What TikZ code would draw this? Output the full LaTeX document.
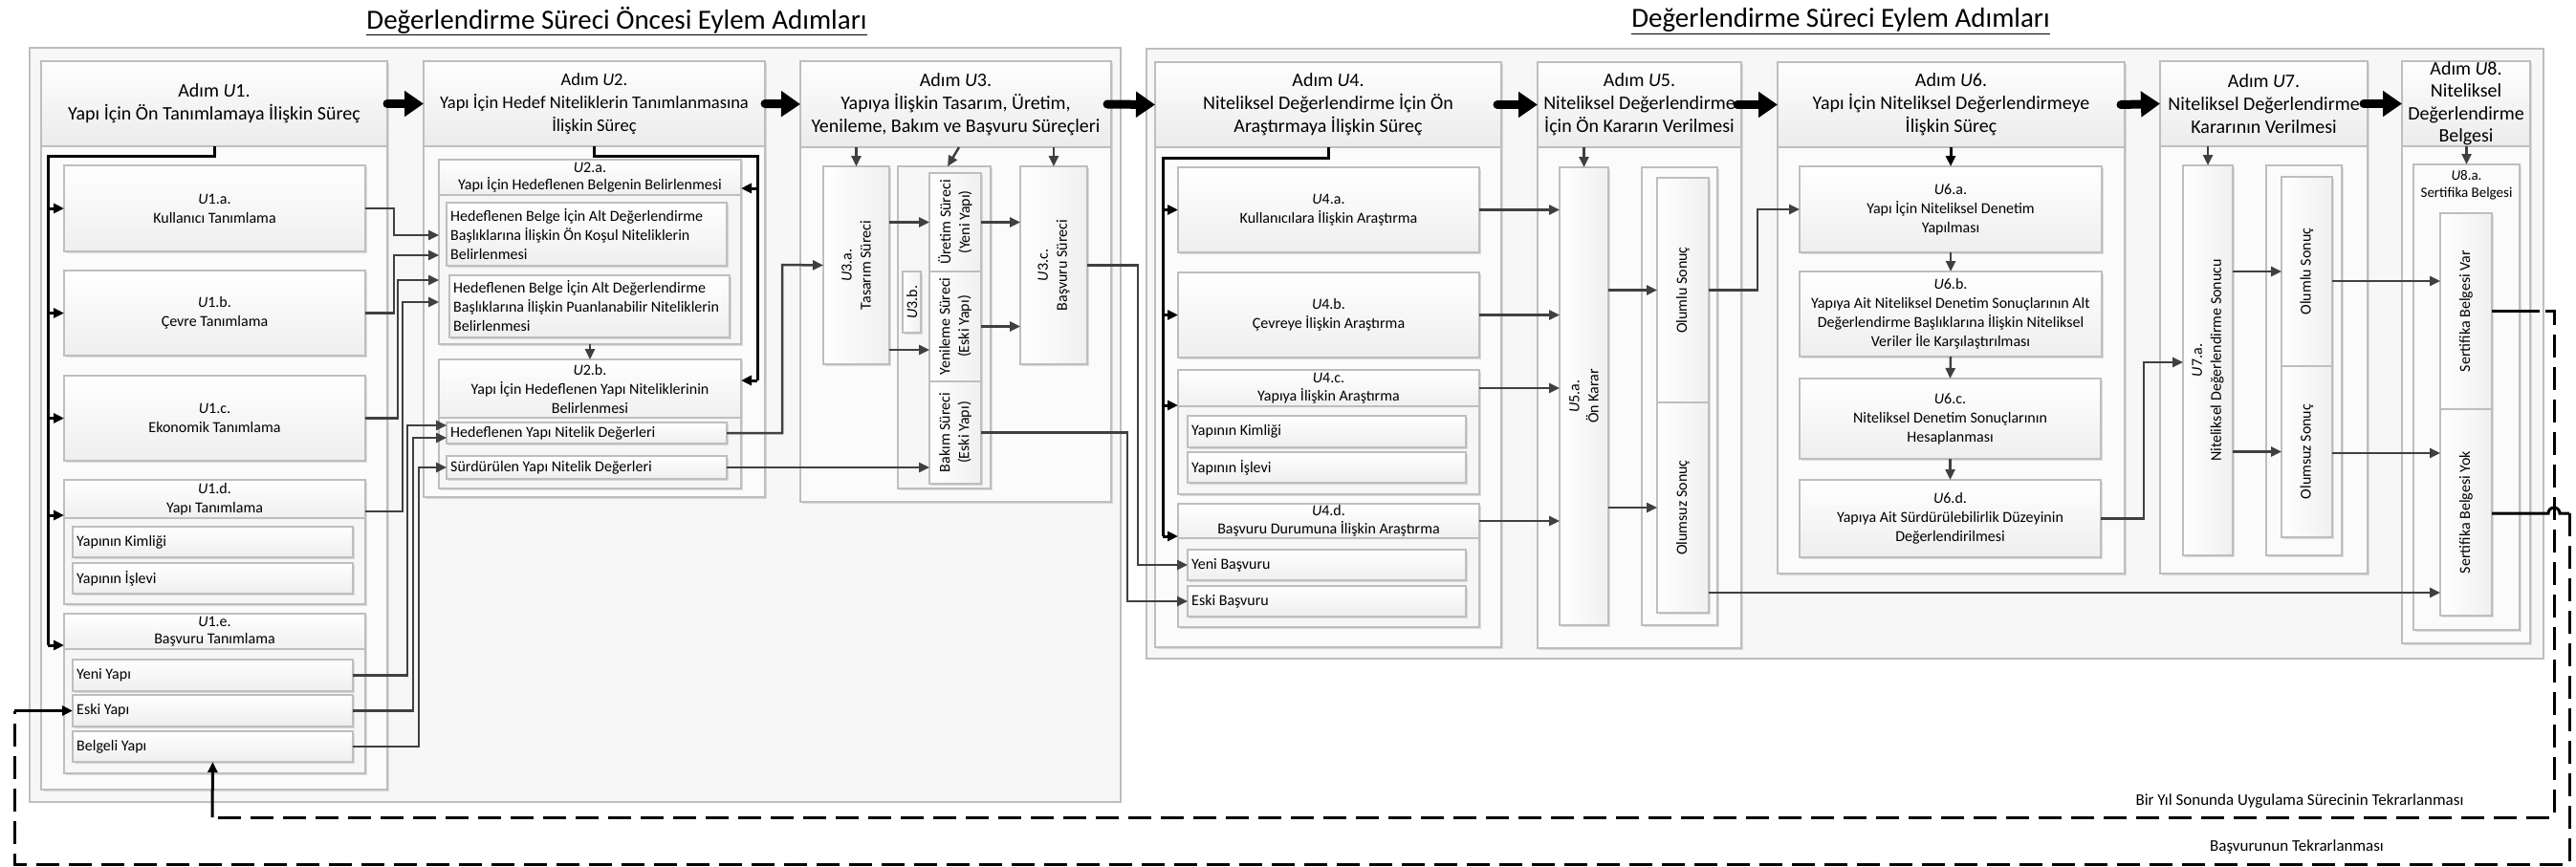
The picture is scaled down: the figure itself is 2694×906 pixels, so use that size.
\documentclass[tikz,border=0pt]{standalone}
\usepackage{fontspec}
\setmainfont{Carlito}
\usetikzlibrary{arrows.meta,shadows}
\definecolor{bord}{HTML}{BEBEBE}
\definecolor{conn}{HTML}{404040}
\newcommand\fL{\fontsize{16}{20}\selectfont}
\newcommand\fLs{\fontsize{16}{18.5}\selectfont}
\newcommand\fH{\fontsize{20}{24}\selectfont}
\newcommand\fHn{\fontsize{18.5}{24}\selectfont}
\newcommand\fHs{\fontsize{20}{23.5}\selectfont}
\newcommand\fT{\fontsize{29}{34}\selectfont}
\newcommand\fS{\fontsize{15}{18}\selectfont}
\newcommand\fB{\fontsize{17}{20}\selectfont}
\newcommand\myU{\textit{U}}
\newcommand\Bx[7]{%
  \pgfmathsetmacro\mybw{#4-#2}\pgfmathsetmacro\mybh{#5-#3}%
  \pgfmathsetmacro\mycx{(#2+#4)/2}\pgfmathsetmacro\mycy{(#3+#5)/2}%
  \node[#6, minimum width=\mybw pt, minimum height=\mybh pt] (#1) at (\mycx,\mycy) {#7};}
\newcommand\LBx[6]{%
  \Bx{#1}{#2}{#3}{#4}{#5}{leaf}{}%
  \node[anchor=west, align=left, font=\fL, inner sep=0pt] (#1t) at ([xshift=4pt]#1.west) {#6};}
\newcommand\RBx[6]{%
  \Bx{#1}{#2}{#3}{#4}{#5}{vleaf}{}%
  \node[rot] (#1t) at (#1.center) {#6};}
\tikzset{
  shd/.style={drop shadow={shadow xshift=2pt, shadow yshift=-2pt, opacity=0.25, fill=gray}},
  base/.style={draw=bord, line width=1.5pt, inner sep=0pt, outer sep=0pt, align=center, font=\fL},
  outer/.style={base, fill=gray!6},
  colbody/.style={base, fill=gray!3, shd},
  colhead/.style={base, top color=gray!1, bottom color=gray!15, font=\fH},
  leaf/.style={base, top color=white, bottom color=gray!13, shd},
  vleaf/.style={base, left color=white, right color=gray!12, shd},
  subbody/.style={base, fill=gray!7, shd},
  subhead/.style={base, top color=white, bottom color=gray!12},
  plainsh/.style={base, fill=gray!3, shd},
  rot/.style={rotate=90, align=center, font=\fL, inner sep=0pt},
  arr/.style={draw=conn, line width=2.5pt, -{Triangle[length=11pt,width=10pt]}},
  bus/.style={draw=black, line width=3pt},
  barr/.style={draw=black, line width=3pt, -{Triangle[length=11pt,width=10pt]}},
  big/.style={draw=black, line width=9pt, line cap=round, -{Triangle[length=20pt,width=26pt]}},
  loopl/.style={draw=black, line width=3pt},
  dsh/.style={loopl, dash pattern=on 24pt off 10pt},
}
\begin{document}
\begin{tikzpicture}[x=1pt,y=-1pt]
\useasboundingbox[fill=white] (0,0) rectangle (2694,906);
% titles
\node[font=\fT] (t1) at (645,22) {\underline{Değerlendirme Süreci Öncesi Eylem Adımları}};
\node[font=\fT] (t2) at (1925,22) {\underline{Değerlendirme Süreci Eylem Adımları}};
% outer containers
\Bx{outL}{31}{50}{1172}{839}{outer}{}
\Bx{outR}{1199}{51}{2660}{689}{outer}{}
% columns
\Bx{U1}{43}{64}{405}{826}{colbody}{}
\Bx{U1H}{43}{64}{405}{153}{colhead}{Adım \myU1.\\Yapı İçin Ön Tanımlamaya İlişkin Süreç}
\Bx{U2}{443}{64}{800}{520}{colbody}{}
\Bx{U2H}{443}{64}{800}{153}{colhead, font=\fHn}{Adım \myU2.\\Yapı İçin Hedef Niteliklerin Tanımlanmasına\\İlişkin Süreç}
\Bx{U3}{837}{64}{1162}{525}{colbody}{}
\Bx{U3H}{837}{64}{1162}{154}{colhead}{Adım \myU3.\\Yapıya İlişkin Tasarım, Üretim,\\Yenileme, Bakım ve Başvuru Süreçleri}
\Bx{U4}{1208}{65}{1570}{677}{colbody}{}
\Bx{U4H}{1208}{65}{1570}{154}{colhead}{Adım \myU4.\\Niteliksel Değerlendirme İçin Ön\\Araştırmaya İlişkin Süreç}
\Bx{U5}{1608}{65}{1821}{678}{colbody}{}
\Bx{U5H}{1608}{65}{1821}{154}{colhead}{Adım \myU5.\\Niteliksel Değerlendirme\\İçin Ön Kararın Verilmesi}
\Bx{U6}{1859}{65}{2222}{600}{colbody}{}
\Bx{U6H}{1859}{65}{2222}{154}{colhead}{Adım \myU6.\\Yapı İçin Niteliksel Değerlendirmeye\\İlişkin Süreç}
\Bx{U7}{2259}{64}{2476}{600}{colbody}{}
\Bx{U7H}{2259}{64}{2476}{153}{colhead}{Adım \myU7.\\Niteliksel Değerlendirme\\Kararının Verilmesi}
\Bx{U8}{2512}{64}{2646}{673}{colbody}{}
\Bx{U8H}{2512}{64}{2646}{153}{colhead, font=\fHs}{Adım \myU8.\\Niteliksel\\Değerlendirme\\Belgesi}
% U1
\Bx{U1a}{67}{173}{382}{263}{leaf}{\myU1.a.\\Kullanıcı Tanımlama}
\Bx{U1b}{67}{283}{382}{372}{leaf}{\myU1.b.\\Çevre Tanımlama}
\Bx{U1c}{67}{393}{382}{482}{leaf}{\myU1.c.\\Ekonomik Tanımlama}
\Bx{U1d}{67}{502}{382}{632}{subbody}{}
\Bx{U1dH}{67}{502}{382}{542}{subhead}{\myU1.d.\\Yapı Tanımlama}
\LBx{U1d1}{76}{551}{369}{583}{Yapının Kimliği}
\LBx{U1d2}{76}{589}{369}{621}{Yapının İşlevi}
\Bx{U1e}{67}{642}{382}{809}{subbody}{}
\Bx{U1eH}{67}{642}{382}{679}{subhead, font=\fLs}{\myU1.e.\\Başvuru Tanımlama}
\LBx{Yeni}{76}{690}{369}{723}{Yeni Yapı}
\LBx{Eski}{76}{727}{369}{760}{Eski Yapı}
\LBx{Belgeli}{76}{765}{369}{797}{Belgeli Yapı}
% U2
\Bx{U2a}{459}{167}{775}{360}{subbody}{}
\Bx{U2aH}{459}{167}{775}{204}{subhead, font=\fLs}{\myU2.a.\\Yapı İçin Hedeflenen Belgenin Belirlenmesi}
\LBx{U2a1}{467}{212}{760}{278}{Hedeflenen Belge İçin Alt Değerlendirme\\Başlıklarına İlişkin Ön Koşul Niteliklerin\\Belirlenmesi}
\LBx{U2a2}{470}{288}{763}{353}{Hedeflenen Belge İçin Alt Değerlendirme\\Başlıklarına İlişkin Puanlanabilir Niteliklerin\\Belirlenmesi}
\Bx{U2b}{459}{376}{775}{511}{subbody}{}
\Bx{U2bH}{459}{376}{775}{437}{subhead}{\myU2.b.\\Yapı İçin Hedeflenen Yapı Niteliklerinin\\Belirlenmesi}
\LBx{HYND}{467}{442}{760}{464}{Hedeflenen Yapı Nitelik Değerleri}
\LBx{SYND}{467}{477}{760}{501}{Sürdürülen Yapı Nitelik Değerleri}
% U3
\RBx{U3a}{861}{174}{930}{381}{\myU3.a.\\Tasarım Süreci}
\Bx{U3b}{939}{174}{1036}{511}{subbody}{}
\RBx{U3bl}{944}{284}{963}{348}{\myU3.b.}
\RBx{Uretim}{972}{181}{1026}{284}{Üretim Süreci\\(Yeni Yapı)}
\RBx{Yenileme}{972}{284}{1026}{399}{Yenileme Süreci\\(Eski Yapı)}
\RBx{Bakim}{972}{399}{1026}{506}{Bakım Süreci\\(Eski Yapı)}
\RBx{U3c}{1067}{174}{1137}{381}{\myU3.c.\\Başvuru Süreci}
% U4
\Bx{U4a}{1232}{175}{1547}{264}{leaf}{\myU4.a.\\Kullanıcılara İlişkin Araştırma}
\Bx{U4b}{1232}{285}{1547}{374}{leaf}{\myU4.b.\\Çevreye İlişkin Araştırma}
\Bx{U4c}{1232}{387}{1547}{517}{subbody}{}
\Bx{U4cH}{1232}{387}{1547}{425}{subhead, font=\fLs}{\myU4.c.\\Yapıya İlişkin Araştırma}
\LBx{U4c1}{1242}{435}{1533}{468}{Yapının Kimliği}
\LBx{U4c2}{1242}{473}{1533}{505}{Yapının İşlevi}
\Bx{U4d}{1232}{527}{1547}{656}{subbody}{}
\Bx{U4dH}{1232}{527}{1547}{563}{subhead, font=\fLs}{\myU4.d.\\Başvuru Durumuna İlişkin Araştırma}
\LBx{YeniB}{1242}{575}{1533}{607}{Yeni Başvuru}
\LBx{EskiB}{1242}{613}{1533}{645}{Eski Başvuru}
% U5
\RBx{U5a}{1631}{175}{1682}{654}{\myU5.a.\\Ön Karar}
\Bx{U5r}{1717}{175}{1796}{654}{plainsh}{}
\RBx{Olumlu5}{1733}{186}{1787}{421}{Olumlu Sonuç}
\RBx{Olumsuz5}{1733}{421}{1787}{641}{Olumsuz Sonuç}
% U6
\Bx{U6a}{1882}{174}{2198}{264}{leaf}{\myU6.a.\\Yapı İçin Niteliksel Denetim\\Yapılması}
\Bx{U6b}{1882}{284}{2198}{373}{leaf}{\myU6.b.\\Yapıya Ait Niteliksel Denetim Sonuçlarının Alt\\Değerlendirme Başlıklarına İlişkin Niteliksel\\Veriler İle Karşılaştırılması}
\Bx{U6c}{1882}{396}{2197}{480}{leaf}{\myU6.c.\\Niteliksel Denetim Sonuçlarının\\Hesaplanması}
\Bx{U6d}{1882}{502}{2197}{583}{leaf}{\myU6.d.\\Yapıya Ait Sürdürülebilirlik Düzeyinin\\Değerlendirilmesi}
% U7
\RBx{U7a}{2283}{173}{2335}{581}{\myU7.a.\\Niteliksel Değerlendirme Sonucu}
\Bx{U7r}{2370}{173}{2449}{581}{plainsh}{}
\RBx{Olumlu7}{2386}{185}{2439}{383}{Olumlu Sonuç}
\RBx{Olumsuz7}{2386}{383}{2439}{562}{Olumsuz Sonuç}
% U8
\Bx{U8a}{2524}{172}{2635}{659}{plainsh}{}
\node[font=\fS, align=center, inner sep=0pt] (U8at) at (2579.5,194) {\myU8.a.\\Sertifika Belgesi};
\RBx{SVar}{2552}{223}{2606}{428}{Sertifika Belgesi Var}
\RBx{SYok}{2552}{428}{2606}{644}{Sertifika Belgesi Yok}
% big arrows between steps
\draw[big] (U1H.east) -- (U2H.west);
\draw[big] (U2H.east) -- (U3H.west);
\draw[big] ([xshift=-4pt]U3H.east) -- (U4H.west);
\draw[big] ([xshift=-4pt]U4H.east) -- (U5H.west);
\draw[big] ([xshift=-4pt]U5H.east) -- (U6H.west);
\draw[big] ([xshift=-4pt]U6H.east) -- (U7H.west);
\draw[big] ([xshift=-4pt]U7H.east) -- (U8H.west);
% U1 bus
\draw[bus] (U1H.south) |- (50,163) -- (50,675);
\draw[barr] (U1a.west -| 50,0) -- (U1a.west);
\draw[barr] (U1b.west -| 50,0) -- (U1b.west);
\draw[barr] (U1c.west -| 50,0) -- (U1c.west);
\draw[barr] (50,539) -- (U1d.west |- 0,539);
\draw[barr] (50,675) -- (U1e.west |- 0,675);
% U1 -> U2
\draw[arr] (U1a.east) -| (412,246) -- (U2a.west |- 0,246);
\draw[arr] (U1b.east) -| (412,267) -- (U2a.west |- 0,267);
\draw[arr] (U1c.east) -| (416,293) -- (U2a.west |- 0,293);
\draw[arr] (U1d.east |- 0,535) -| (421,316) -- (U2a.west |- 0,316);
\draw[arr] (Yeni.east) -| (426,445) -- (HYND.west |- 0,445);
\draw[arr] (Eski.east) -| (432,458) -- (HYND.west |- 0,458);
\draw[arr] (Belgeli.east) -| (438,489) -- (SYND.west |- 0,489);
% U2 bus
\draw[bus] (U2H.south) |- (792,163) -- (792,398);
\draw[barr] (792,197) -- (U2a.east |- 0,197);
\draw[barr] (792,398) -- (U2b.east |- 0,398);
\draw[arr] (U2a.south) -- (U2b.north);
% U2 -> U3
\draw[arr] (HYND.east) -| (818,277) -- (U3a.west);
\draw[arr] (SYND.east) -- (Bakim.west |- SYND.east);
% U3 internal
\draw[arr] (U3a.north |- U3H.south) -- (U3a.north);
\draw[arr] (U3H.south -| 1003,0) -- (U3b.north -| 991,0);
\draw[arr] (U3c.north |- U3H.south) -- (U3c.north);
\draw[arr] (U3a.east |- Uretim.west) -- (Uretim.west);
\draw[arr] (U3a.east |- 0,366) -- (Yenileme.west |- 0,366);
\draw[arr] (Uretim.east) -- (U3c.west |- Uretim.east);
\draw[arr] (Yenileme.east) -- (U3c.west |- Yenileme.east);
% U3 -> U4
\draw[arr] (U3c.east) -| (1190,591) -- (YeniB.west);
\draw[arr] (Bakim.east) -| (1179,629) -- (EskiB.west);
% U4 bus
\draw[bus] (U4H.south) |- (1216,165) -- (1216,561);
\draw[barr] (U4a.west -| 1216,0) -- (U4a.west);
\draw[barr] (U4b.west -| 1216,0) -- (U4b.west);
\draw[barr] (1216,424) -- (U4c.west |- 0,424);
\draw[barr] (1216,561) -- (U4d.west |- 0,561);
% U4 -> U5
\draw[arr] (U4a.east) -- (U5a.west |- U4a.east);
\draw[arr] (U4b.east) -- (U5a.west |- U4b.east);
\draw[arr] (U4cH.east) -- (U5a.west |- U4cH.east);
\draw[arr] (U4dH.east) -- (U5a.west |- U4dH.east);
% U5
\draw[arr] (U5a.north |- U5H.south) -- (U5a.north);
\draw[arr] (U5a.east |- Olumlu5.west) -- (Olumlu5.west);
\draw[arr] (U5a.east |- Olumsuz5.west) -- (Olumsuz5.west);
\draw[arr] (Olumlu5.east) -| (1838,219) -- (U6a.west);
\draw[arr] (Olumsuz5.east |- 0,620) -- (SYok.west |- 0,620);
% U6
\draw[barr] (U6a.north |- U6H.south) -- (U6a.north);
\draw[arr] (U6a.south) -- (U6b.north);
\draw[arr] (U6b.south) -- (U6c.north);
\draw[arr] (U6c.south) -- (U6d.north);
\draw[arr] (U6d.east) -| (2242,379) -- (U7a.west |- 0,379);
% U7
\draw[arr] (U7a.north |- U7H.south) -- (U7a.north);
\draw[arr] (U7a.east |- Olumlu7.west) -- (Olumlu7.west);
\draw[arr] (U7a.east |- Olumsuz7.west) -- (Olumsuz7.west);
\draw[arr] (Olumlu7.east |- 0,294) -- (SVar.west |- 0,294);
\draw[arr] (Olumsuz7.east |- 0,474) -- (SYok.west |- 0,474);
% U8
\draw[arr] (U8a.north |- U8H.south) -- (U8a.north);
% repeat loops
\draw[loopl] (SVar.east |- 0,325) -- (2656,325);
\draw[dsh] (2662,325) -- (2671,325) -- (2671,855) -- (222,855);
\draw[barr] (222,855) -- (Belgeli.south);
\draw[loopl] (SYok.east |- 0,537) -- (2665,537) arc[start angle=180, end angle=360, radius=6] -- (2687,537);
\draw[dsh] (2687,537) -- (2687,904) -- (15,904) -- (Eski.west -| 15,0);
\draw[barr] (Eski.west -| 15,0) -- (Eski.west);
\node[font=\fB] (lab1) at (2405,838) {Bir Yıl Sonunda Uygulama Sürecinin Tekrarlanması};
\node[font=\fB] (lab2) at (2402,886) {Başvurunun Tekrarlanması};
\end{tikzpicture}
\end{document}
